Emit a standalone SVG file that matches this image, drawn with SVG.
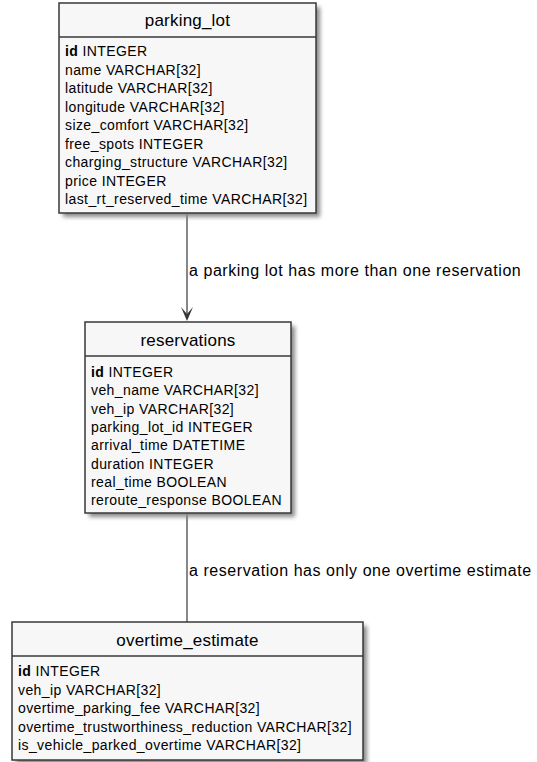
<svg xmlns="http://www.w3.org/2000/svg" width="537" height="762" viewBox="0 0 537 762">
  <style>
    .box { fill: #F7F7F7; stroke: #383838; stroke-width: 1.5; }
    .shadow { fill: #8a8a8a; filter: url(#blur); }
    .sep { stroke: #383838; stroke-width: 1.5; }
    .title { font-family: "Liberation Sans", Arial, sans-serif; font-size: 17px; fill: #000; text-anchor: middle; letter-spacing: 0.2px; }
    .attr { font-family: "Liberation Sans", Arial, sans-serif; font-size: 14px; fill: #000; letter-spacing: 0.4px; }
    .attr .key { font-weight: bold; }
    .edge { stroke: #383838; stroke-width: 1.2; fill: none; }
    .elabel { font-family: "Liberation Sans", Arial, sans-serif; font-size: 16px; fill: #000; letter-spacing: 0.55px; }
  </style>
  <defs>
    <filter id="blur" x="-10%" y="-10%" width="120%" height="120%">
      <feGaussianBlur stdDeviation="2"/>
    </filter>
  </defs>
  <rect width="537" height="762" fill="#ffffff"/>

  <!-- relationships -->
  <g id="connectors">
    <line class="edge" x1="187" y1="213" x2="187" y2="319"/>
    <polygon points="181,307 187,321 193,307 187,314" fill="#383838"/>
    <text class="elabel" x="189" y="276">a parking lot has more than one reservation</text>
    <line class="edge" x1="187" y1="513" x2="187" y2="622"/>
    <text class="elabel" x="189" y="576">a reservation has only one overtime estimate</text>
  </g>

  <!-- parking_lot table -->
  <g id="parking_lot">
    <rect class="shadow" x="63" y="7" width="257" height="210"/>
    <rect class="box" x="59" y="3" width="257" height="210"/>
    <line class="sep" x1="59" y1="37" x2="316" y2="37"/>
    <text class="title" x="187.5" y="26">parking_lot</text>
    <text class="attr" x="65" y="56"><tspan class="key">id</tspan> INTEGER</text>
    <text class="attr" x="65" y="74.5">name VARCHAR[32]</text>
    <text class="attr" x="65" y="93">latitude VARCHAR[32]</text>
    <text class="attr" x="65" y="111.5">longitude VARCHAR[32]</text>
    <text class="attr" x="65" y="130">size_comfort VARCHAR[32]</text>
    <text class="attr" x="65" y="148.5">free_spots INTEGER</text>
    <text class="attr" x="65" y="167">charging_structure VARCHAR[32]</text>
    <text class="attr" x="65" y="185.5">price INTEGER</text>
    <text class="attr" x="65" y="204">last_rt_reserved_time VARCHAR[32]</text>
  </g>

  <!-- reservations table -->
  <g id="reservations">
    <rect class="shadow" x="89" y="326" width="206" height="191"/>
    <rect class="box" x="85" y="322" width="206" height="191"/>
    <line class="sep" x1="85" y1="356" x2="291" y2="356"/>
    <text class="title" x="188" y="346">reservations</text>
    <text class="attr" x="91" y="377"><tspan class="key">id</tspan> INTEGER</text>
    <text class="attr" x="91" y="395.3">veh_name VARCHAR[32]</text>
    <text class="attr" x="91" y="413.6">veh_ip VARCHAR[32]</text>
    <text class="attr" x="91" y="431.9">parking_lot_id INTEGER</text>
    <text class="attr" x="91" y="450.2">arrival_time DATETIME</text>
    <text class="attr" x="91" y="468.5">duration INTEGER</text>
    <text class="attr" x="91" y="486.8">real_time BOOLEAN</text>
    <text class="attr" x="91" y="505">reroute_response BOOLEAN</text>
  </g>

  <!-- overtime_estimate table -->
  <g id="overtime_estimate">
    <rect class="shadow" x="16" y="626" width="351" height="138"/>
    <rect class="box" x="12" y="622" width="351" height="138"/>
    <line class="sep" x1="12" y1="656" x2="363" y2="656"/>
    <text class="title" x="187.5" y="646">overtime_estimate</text>
    <text class="attr" x="18" y="676"><tspan class="key">id</tspan> INTEGER</text>
    <text class="attr" x="18" y="694.5">veh_ip VARCHAR[32]</text>
    <text class="attr" x="18" y="713">overtime_parking_fee VARCHAR[32]</text>
    <text class="attr" x="18" y="731.5">overtime_trustworthiness_reduction VARCHAR[32]</text>
    <text class="attr" x="18" y="750">is_vehicle_parked_overtime VARCHAR[32]</text>
  </g>
</svg>
